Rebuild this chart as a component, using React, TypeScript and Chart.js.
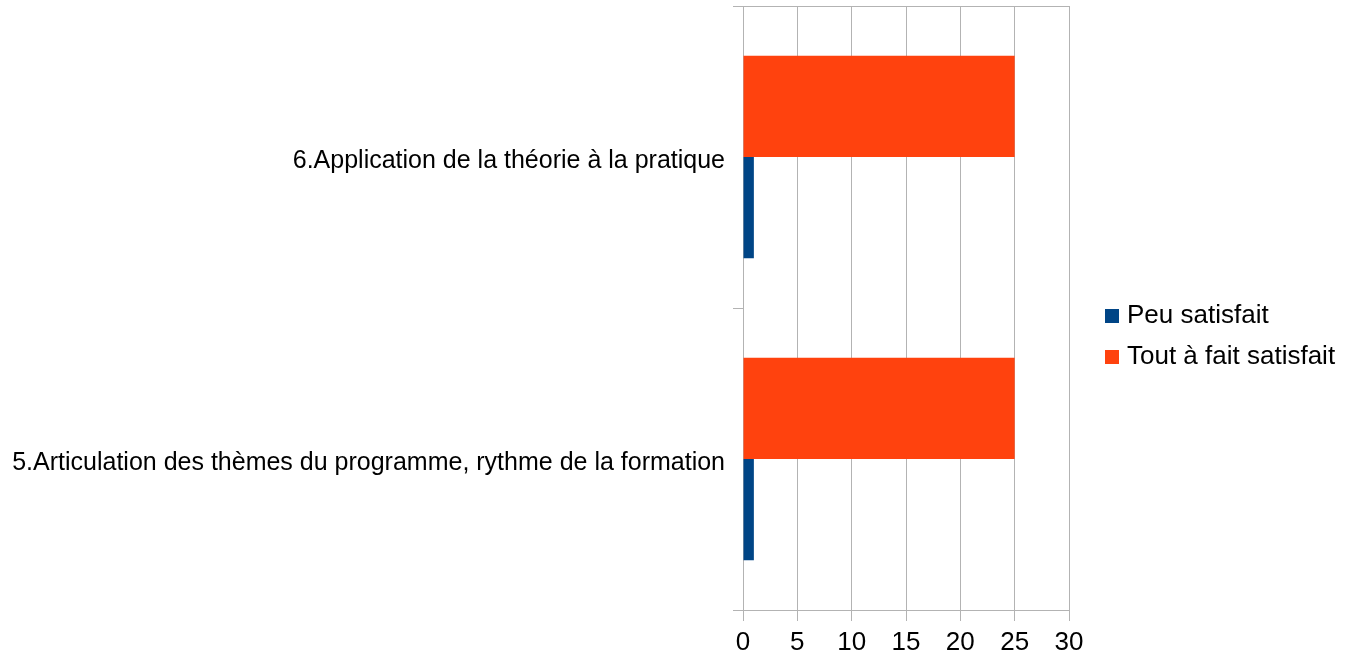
import React, { useEffect, useRef } from "react";
import { Chart, registerables } from "chart.js";

Chart.register(...registerables);

const categories = [
  "6.Application de la théorie à la pratique",
  "5.Articulation des thèmes du programme, rythme de la formation",
];
const seriesNames = ["Peu satisfait", "Tout à fait satisfait"];
const peuSatisfait = [1, 1];
const toutAFaitSatisfait = [25, 25];
const xTicks = [0, 5, 10, 15, 20, 25, 30];

const BLUE = "#004586";
const ORANGE = "#ff420e";
const GRID = "#b3b3b3";
const FONT = "'Liberation Sans', Arial, sans-serif";

const sideLegend = {
  id: "sideLegend",
  afterDraw(chart: any) {
    const ctx = chart.ctx;
    const area = chart.chartArea;
    // top border of plot
    ctx.save();
    ctx.strokeStyle = GRID;
    ctx.lineWidth = 1;
    ctx.beginPath();
    ctx.moveTo(area.left - 10, area.top + 0.5);
    ctx.lineTo(area.right, area.top + 0.5);
    ctx.stroke();

    const items = [
      { text: seriesNames[0], color: BLUE },
      { text: seriesNames[1], color: ORANGE },
    ];
    const x = area.right + 36;
    const startY = 315;
    const step = 41;
    ctx.font = `26px ${FONT}`;
    ctx.textBaseline = "middle";
    ctx.textAlign = "left";
    items.forEach((it, i) => {
      const cy = startY + i * step;
      ctx.fillStyle = it.color;
      ctx.fillRect(x, cy - 6, 14, 14);
      ctx.fillStyle = "#000";
      ctx.fillText(it.text, x + 22, cy + 1);
    });
    ctx.restore();
  },
};

export default function App() {
  const ref = useRef<HTMLCanvasElement>(null);
  useEffect(() => {
    if (!ref.current) return;
    const chart = new Chart(ref.current, {
      type: "bar",
      data: {
        labels: categories,
        datasets: [
          {
            label: seriesNames[1],
            data: toutAFaitSatisfait,
            backgroundColor: ORANGE,
            borderWidth: 0,
            categoryPercentage: 0.67,
            barPercentage: 1,
          },
          {
            label: seriesNames[0],
            data: peuSatisfait,
            backgroundColor: BLUE,
            borderWidth: 0,
            categoryPercentage: 0.67,
            barPercentage: 1,
          },
        ],
      },
      options: {
        indexAxis: "y",
        responsive: false,
        animation: false,
        layout: { padding: { top: 6, left: 0, right: 281, bottom: 0 } },
        plugins: {
          legend: { display: false },
          tooltip: { enabled: false },
        },
        scales: {
          x: {
            type: "linear",
            min: 0,
            max: 30,
            afterBuildTicks: (scale: any) => {
              scale.ticks = xTicks.map((v) => ({ value: v }));
            },
            afterFit: (scale: any) => {
              scale.height = 51;
            },
            ticks: {
              color: "#000",
              font: { family: FONT, size: 26 },
              padding: 6,
              maxRotation: 0,
            },
            grid: {
              color: GRID,
              lineWidth: 1,
              tickLength: 11,
              drawOnChartArea: true,
            },
            border: { display: true, color: GRID },
          },
          y: {
            type: "category",
            offset: true,
            afterFit: (scale: any) => {
              scale.width = 743;
              scale.paddingTop = 0;
              scale.paddingBottom = 0;
            },
            ticks: {
              color: "#000",
              font: { family: FONT, size: 25 },
              padding: 8,
              labelOffset: 4,
            },
            grid: {
              offset: true,
              color: GRID,
              drawOnChartArea: false,
              tickLength: 10,
            },
            border: { display: true, color: GRID },
          },
        },
      },
      plugins: [sideLegend],
    });
    return () => chart.destroy();
  }, []);
  return (
    <div style={{ position: "absolute", left: 0, top: 0, width: 1350, height: 661, background: "#fff" }}>
      <canvas ref={ref} width={1350} height={661} style={{ display: "block" }} />
    </div>
  );
}
